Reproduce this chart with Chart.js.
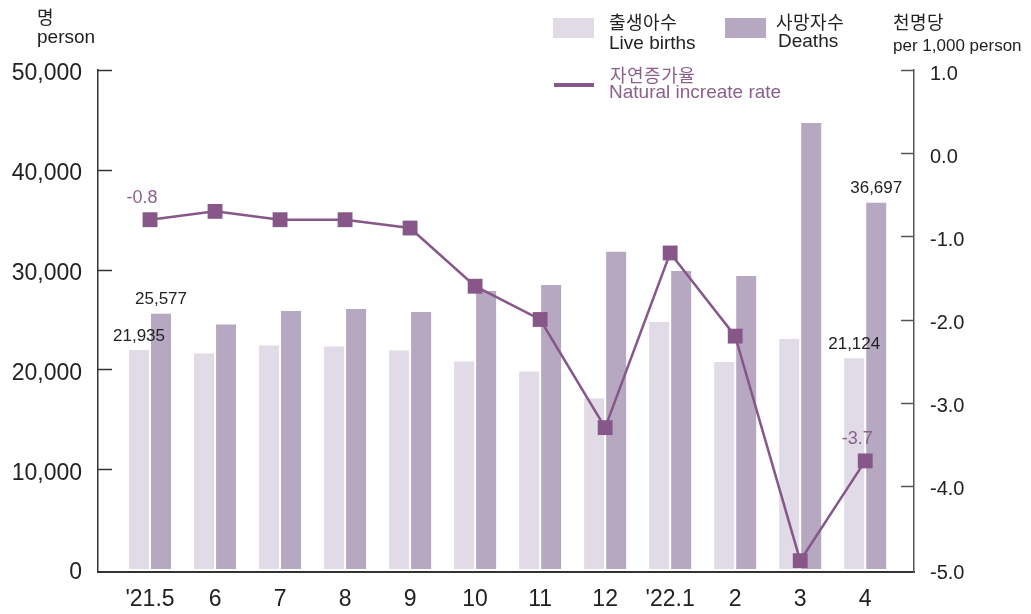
<!DOCTYPE html>
<html>
<head>
<meta charset="utf-8">
<script src="https://cdn.jsdelivr.net/npm/chart.js@4.4.0/dist/chart.umd.min.js"></script>
<style>
  body { margin: 0; background: #fff; }
  #wrap { position: relative; width: 1031px; height: 614px; }
  #chart { position: absolute; left: 0; top: 0; }
  .t { position: absolute; font-family: "Liberation Sans", Arial, sans-serif; color: #222; line-height: 20px; white-space: nowrap; }
  .ko { font-family: "Noto Sans CJK KR", sans-serif; font-size: 18px; letter-spacing: 0.5px; }
  .en { font-size: 19px; }
  .pu { color: #8c5f8c; }
  .sw { position: absolute; }
</style>
</head>
<body>
<div id="wrap">
  <canvas id="chart" width="1031" height="614"></canvas>

  <div class="t ko" style="left:37px; top:6px;">명</div>
  <div class="t en" style="left:37px; top:27px;">person</div>

  <div class="sw" style="left:553px; top:18px; width:41px; height:20px; background:#e0dbe7;"></div>
  <div class="t ko" style="left:609px; top:11px;">출생아수</div>
  <div class="t en" style="left:609px; top:33px;">Live births</div>

  <div class="sw" style="left:725px; top:18px; width:41px; height:20px; background:#b6a8c1;"></div>
  <div class="t ko" style="left:776px; top:11px;">사망자수</div>
  <div class="t en" style="left:778px; top:31px;">Deaths</div>

  <div class="sw" style="left:554px; top:83px; width:40px; height:4px; background:#87578a;"></div>
  <div class="t ko pu" style="left:610px; top:64px;">자연증가율</div>
  <div class="t en pu" style="left:609px; top:82px;">Natural increate rate</div>

  <div class="t ko" style="left:893px; top:11px;">천명당</div>
  <div class="t" style="left:893px; top:36px; font-size:17px;">per 1,000 person</div>
</div>

<script>
const labels = ["'21.5", "6", "7", "8", "9", "10", "11", "12", "'22.1", "2", "3", "4"];
const births = [21935, 21600, 22400, 22300, 21900, 20800, 19800, 17100, 24750, 20750, 23050, 21124];
const deaths = [25577, 24500, 25850, 26050, 25750, 27850, 28450, 31800, 29850, 29350, 44700, 36697];
const rate = [-0.8, -0.7, -0.8, -0.8, -0.9, -1.6, -2.0, -3.3, -1.2, -2.2, -4.9, -3.7];
const leftTicks = [0, 10000, 20000, 30000, 40000, 50000];
const rightTicks = [1, 0, -1, -2, -3, -4, -5];

const FONT = '"Liberation Sans", Arial, sans-serif';
const PURPLE = "#87578a";
const idx = labels.map((_, i) => i);
const toPoints = (arr) => idx.map((i) => ({ x: i, y: arr[i] }));

// ticks that point into the plot
const innerTicks = {
  id: "innerTicks",
  afterDraw(chart) {
    const { ctx, chartArea: a, scales } = chart;
    ctx.save();
    ctx.lineWidth = 1.5;
    ctx.strokeStyle = "#333";
    leftTicks.filter((v) => v > 0).forEach((v) => {
      const y = Math.round(scales.yL.getPixelForValue(v)) + 0.5;
      ctx.beginPath();
      ctx.moveTo(a.left, y);
      ctx.lineTo(a.left + 14, y);
      ctx.stroke();
    });
    ctx.strokeStyle = "#555";
    rightTicks.filter((v) => v > -5).forEach((v) => {
      const y = Math.round(scales.yR.getPixelForValue(v)) + 0.5;
      ctx.beginPath();
      ctx.moveTo(a.right - 13, y);
      ctx.lineTo(a.right, y);
      ctx.stroke();
    });
    ctx.restore();
  },
};

// first and last month get value labels
const valueLabels = {
  id: "valueLabels",
  afterDatasetsDraw(chart) {
    const ctx = chart.ctx;
    const show = [0, labels.length - 1];
    ctx.save();
    ctx.textAlign = "center";
    ctx.textBaseline = "middle";
    ctx.font = "17px " + FONT;
    ctx.fillStyle = "#222";
    [1, 2].forEach((di) => {
      const meta = chart.getDatasetMeta(di);
      const vals = di === 1 ? births : deaths;
      show.forEach((i) => {
        const el = meta.data[i];
        ctx.fillText(vals[i].toLocaleString("en-US"), el.x, el.y - 14);
      });
    });
    ctx.font = "18px " + FONT;
    ctx.fillStyle = "#8c5f8c";
    const lm = chart.getDatasetMeta(0);
    show.forEach((i) => {
      const el = lm.data[i];
      ctx.fillText(rate[i].toFixed(1), el.x - 8, el.y - 22);
    });
    ctx.restore();
  },
};

new Chart(document.getElementById("chart"), {
  data: {
    datasets: [
      {
        type: "line",
        label: "자연증가율",
        data: toPoints(rate),
        yAxisID: "yR",
        borderColor: PURPLE,
        borderWidth: 2.5,
        pointStyle: "rect",
        pointRadius: 10.5,
        pointBackgroundColor: PURPLE,
        pointBorderWidth: 0,
        order: 0,
      },
      {
        type: "bar",
        label: "출생아수",
        data: toPoints(births),
        yAxisID: "yL",
        backgroundColor: "#e0dbe7",
        categoryPercentage: 0.677,
        barPercentage: 0.909,
        order: 1,
      },
      {
        type: "bar",
        label: "사망자수",
        data: toPoints(deaths),
        yAxisID: "yL",
        backgroundColor: "#b6a8c1",
        categoryPercentage: 0.677,
        barPercentage: 0.909,
        order: 1,
      },
    ],
  },
  options: {
    responsive: false,
    animation: false,
    layout: { padding: { top: 70, left: 0, right: 0, bottom: 0 } },
    plugins: { legend: { display: false }, tooltip: { enabled: false } },
    scales: {
      x: {
        type: "linear",
        offset: false,
        min: -0.8,
        max: 11.75,
        afterBuildTicks: (s) => { s.ticks = idx.map((v) => ({ value: v })); },
        afterFit: (s) => { s.height = 42; },
        grid: { display: false, drawTicks: false },
        border: { display: true, color: "#333", width: 2 },
        ticks: {
          autoSkip: false,
          maxRotation: 0,
          padding: 14,
          color: "#222",
          font: { family: FONT, size: 23 },
          callback: (v) => labels[v],
        },
      },
      yL: {
        position: "left",
        min: -300,
        max: 50000,
        afterBuildTicks: (s) => { s.ticks = leftTicks.map((v) => ({ value: v })); },
        afterFit: (s) => { s.width = 98; },
        grid: { display: false, drawTicks: false },
        border: { display: true, color: "#333", width: 1.5 },
        ticks: {
          padding: 16,
          labelOffset: 4,
          color: "#222",
          font: { family: FONT, size: 23 },
          callback: (v) => v.toLocaleString("en-US"),
        },
      },
      yR: {
        position: "right",
        min: -5.036,
        max: 1,
        afterBuildTicks: (s) => { s.ticks = rightTicks.map((v) => ({ value: v })); },
        afterFit: (s) => { s.width = 117; },
        grid: { display: false, drawTicks: false },
        border: { display: true, color: "#555", width: 1.5 },
        ticks: {
          padding: 16,
          labelOffset: 4,
          color: "#222",
          font: { family: FONT, size: 20 },
          callback: (v) => v.toFixed(1),
        },
      },
    },
  },
  plugins: [innerTicks, valueLabels],
});
</script>
</body>
</html>
